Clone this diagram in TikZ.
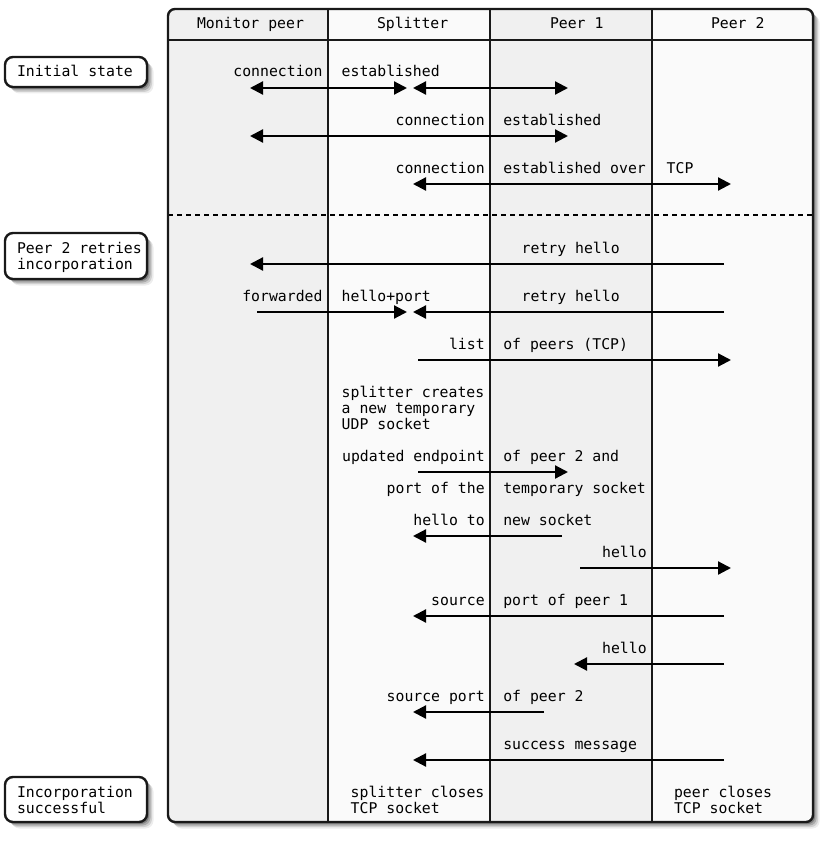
\documentclass[tikz,border=0pt]{standalone}
\usepackage{fontspec}
\setmonofont{DejaVu Sans Mono}
\usetikzlibrary{arrows.meta}
\definecolor{colgray}{HTML}{F0F0F0}
\definecolor{colwhite}{HTML}{FAFAFA}
\newcommand\sendmsg[5]{%
  \coordinate (#1a) at (#3,#5);
  \coordinate (#1b) at (#4,#5);
  \draw[#2] (#1a) -- (#1b);}
\newcommand\softshadow[5]{%
  \foreach \o/\op in {2/0.25,3.5/0.18,5/0.12,6.5/0.07}{
    \fill[black, opacity=\op, rounded corners=#5] (#1+\o,#2+\o) rectangle (#3+\o,#4+\o);}}
\begin{document}
\begin{tikzpicture}[x=1pt,y=-1pt,
  txt/.style={font=\ttfamily\fontsize{14.8}{16}\selectfont, inner sep=0pt, outer sep=0pt},
  lt/.style={txt, anchor=base west},
  rt/.style={txt, anchor=base east},
  msg/.style={line width=2.2pt, -{Triangle[length=13pt,width=13pt]}},
  both/.style={line width=2.2pt, {Triangle[length=13pt,width=13pt]}-{Triangle[length=13pt,width=13pt]}},
  frame/.style={line width=2.4pt, draw=black!90},
  sidebox/.style={line width=2.4pt, draw=black!90, fill=white, rounded corners=8pt},
  ]
\useasboundingbox (0,0) rectangle (828,864);
\fill[white] (0,0) rectangle (828,864);

% ---- main frame with columns
\softshadow{168}{9}{813}{822}{7pt}
\begin{scope}
  \clip[rounded corners=7pt] (168,9) rectangle (813,822);
  \fill[colgray]  (168,9) rectangle (328,822);
  \fill[colwhite] (328,9) rectangle (490,822);
  \fill[colgray]  (490,9) rectangle (652,822);
  \fill[colwhite] (652,9) rectangle (813,822);
\end{scope}
\draw[frame] (168,40) -- (813,40);
\draw[frame] (328,9) -- (328,822);
\draw[frame] (490,9) -- (490,822);
\draw[frame] (652,9) -- (652,822);
\draw[line width=2.2pt, dash pattern=on 5pt off 4pt] (168,215) -- (813,215);
\draw[frame, rounded corners=7pt] (168,9) rectangle (813,822);

% ---- headers
\node[lt] (hmon) at (197,29) {Monitor peer};
\node[lt] (hspl) at (377,29) {Splitter};
\node[lt] (hp1)  at (550,29) {Peer 1};
\node[lt] (hp2)  at (711,29) {Peer 2};

% ---- side labels
\softshadow{5}{57}{147}{87}{8pt}
\draw[sidebox] (5,57) rectangle (147,87);
\node[lt] (sinit) at (17,77) {Initial state};
\softshadow{5}{233}{147}{279}{8pt}
\draw[sidebox] (5,233) rectangle (147,279);
\node[lt] (sretA) at (17,253) {Peer 2 retries};
\node[lt] (sretB) at (17,269) {incorporation};
\softshadow{5}{777}{147}{822}{8pt}
\draw[sidebox] (5,777) rectangle (147,822);
\node[lt] (ssucA) at (17,797) {Incorporation};
\node[lt] (ssucB) at (17,813) {successful};

% ---- row 1
\node[rt] (t1a) at (322.5,77) {connection};
\node[lt] (t1b) at (341.7,77) {established};
\sendmsg{m1}{both}{250}{407}{88}
\sendmsg{m1x}{both}{413}{568}{88}
% ---- row 2
\node[rt] (t2a) at (484.7,125) {connection};
\node[lt] (t2b) at (503.3,125) {established};
\sendmsg{m2}{both}{250}{568}{136}
% ---- row 3
\node[rt] (t3a) at (484.7,173) {connection};
\node[lt] (t3b) at (503.3,173) {established over};
\node[lt] (t3c) at (666.7,173) {TCP};
\sendmsg{m3}{both}{413}{731}{184}
% ---- row 4
\node[lt] (t4a) at (521.7,253) {retry hello};
\sendmsg{m4}{msg}{724}{250}{264}
% ---- row 5
\node[rt] (t5a) at (322.5,301) {forwarded};
\node[lt] (t5b) at (341.7,301) {hello+port};
\node[lt] (t5c) at (521.7,301) {retry hello};
\sendmsg{m5}{msg}{257}{407}{312}
\sendmsg{m5x}{msg}{724}{413}{312}
% ---- row 6
\node[rt] (t6a) at (484.7,349) {list};
\node[lt] (t6b) at (503.3,349) {of peers (TCP)};
\sendmsg{m6}{msg}{418}{731}{360}
% ---- note
\node[lt] (n1a) at (341.7,397) {splitter creates};
\node[lt] (n1b) at (341.7,413) {a new temporary};
\node[lt] (n1c) at (341.7,429) {UDP socket};
% ---- row 8
\node[rt] (t8a) at (484.7,461) {updated endpoint};
\node[lt] (t8b) at (503.3,461) {of peer 2 and};
\sendmsg{m8}{msg}{418}{568}{472}
\node[rt] (t9a) at (484.7,493) {port of the};
\node[lt] (t9b) at (503.3,493) {temporary socket};
% ---- row 10
\node[rt] (t10a) at (484.7,525) {hello to};
\node[lt] (t10b) at (503.3,525) {new socket};
\sendmsg{m10}{msg}{562}{413}{536}
% ---- row 11
\node[rt] (t11a) at (646.7,557) {hello};
\sendmsg{m11}{msg}{580}{731}{568}
% ---- row 12
\node[rt] (t12a) at (484.7,605) {source};
\node[lt] (t12b) at (503.3,605) {port of peer 1};
\sendmsg{m12}{msg}{724}{413}{616}
% ---- row 13
\node[rt] (t13a) at (646.7,653) {hello};
\sendmsg{m13}{msg}{724}{574}{664}
% ---- row 14
\node[rt] (t14a) at (484.7,701) {source port};
\node[lt] (t14b) at (503.3,701) {of peer 2};
\sendmsg{m14}{msg}{544}{413}{712}
% ---- row 15
\node[lt] (t15a) at (503.3,749) {success message};
\sendmsg{m15}{msg}{724}{413}{760}
% ---- closing notes
\node[lt] (n2a) at (350.7,797) {splitter closes};
\node[lt] (n2b) at (350.7,813) {TCP socket};
\node[lt] (n3a) at (674,797) {peer closes};
\node[lt] (n3b) at (674,813) {TCP socket};
\end{tikzpicture}
\end{document}
